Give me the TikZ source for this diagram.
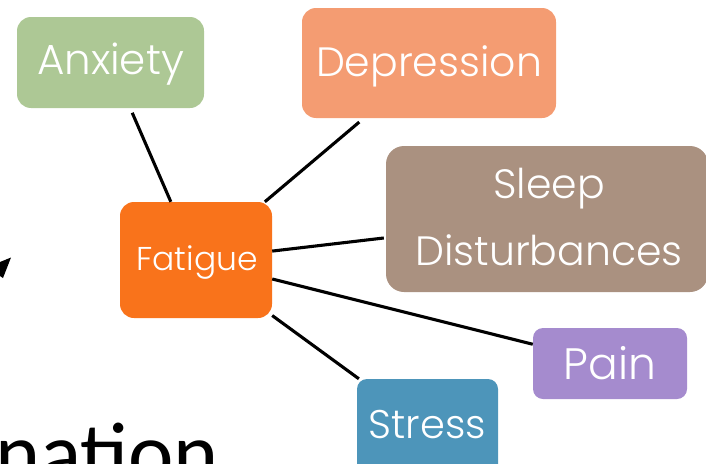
\documentclass[tikz,border=0pt]{standalone}
\usepackage{fontspec}
\setmainfont{Poppins}[UprightFont=* Light]
\newfontfamily\bodyfont{Carlito}
\definecolor{cAnx}{HTML}{ADC895}
\definecolor{cDep}{HTML}{F49C72}
\definecolor{cSlp}{HTML}{AA9180}
\definecolor{cFat}{HTML}{F9731B}
\definecolor{cPain}{HTML}{A58BCE}
\definecolor{cStr}{HTML}{4D95BA}
\begin{document}
\begin{tikzpicture}[x=1pt,y=-1pt,
  box/.style={rounded corners=14pt, inner sep=0pt},
  lbl/.style={text=white, anchor=base, inner sep=0pt},
  link/.style={line width=3.1pt, black}]
\useasboundingbox (0,0) rectangle (706,463);
\clip (0,0) rectangle (706,463);
\node[box, fill=cAnx, minimum width=187pt, minimum height=91pt] (anx) at (110.5,62.5) {};
\node[lbl, font=\fontsize{42}{48}\selectfont] (anxt) at (110.5,74) {Anxiety};
\node[box, fill=cDep, minimum width=254pt, minimum height=110pt] (dep) at (429,63) {};
\node[lbl, font=\fontsize{41}{48}\selectfont] (dept) at (429,76) {Depression};
\node[box, fill=cSlp, minimum width=322pt, minimum height=146pt, rounded corners=18pt] (slp) at (547,219) {};
\node[lbl, font=\fontsize{41}{48}\selectfont] (slpt1) at (549,198) {Sleep};
\node[lbl, font=\fontsize{41}{48}\selectfont] (slpt2) at (549,265) {Disturbances};
\node[box, fill=cFat, minimum width=152pt, minimum height=116pt] (fat) at (196,260) {};
\node[lbl, font=\fontsize{33}{38}\selectfont] (fatt) at (197,270) {Fatigue};
\node[box, fill=cPain, minimum width=154pt, minimum height=71pt, rounded corners=10pt] (pain) at (610,363.5) {};
\node[lbl, font=\fontsize{44}{50}\selectfont] (paint) at (610,379) {Pain};
\node[box, fill=cStr, minimum width=141pt, minimum height=100pt, rounded corners=10pt] (str) at (427.5,429) {};
\node[lbl, font=\fontsize{40}{46}\selectfont] (strt) at (427.5,438) {Stress};
\draw[link, shorten >=5pt] (fat) -- (anx);
\draw[link, shorten >=6pt] (fat) -- (dep);
\draw[link, shorten >=2pt] (fat) -- (slp);
\draw[link] (fat) -- (pain);
\draw[link] (fat) -- (str);
\node[font=\bodyfont\fontsize{86}{90}\selectfont, anchor=base west, inner sep=0pt] (nat) at (-5,482) {nation};
\fill[black] (0,262) -- (11,257.5) -- (3,278) -- (0,276) -- cycle;
\end{tikzpicture}
\end{document}
